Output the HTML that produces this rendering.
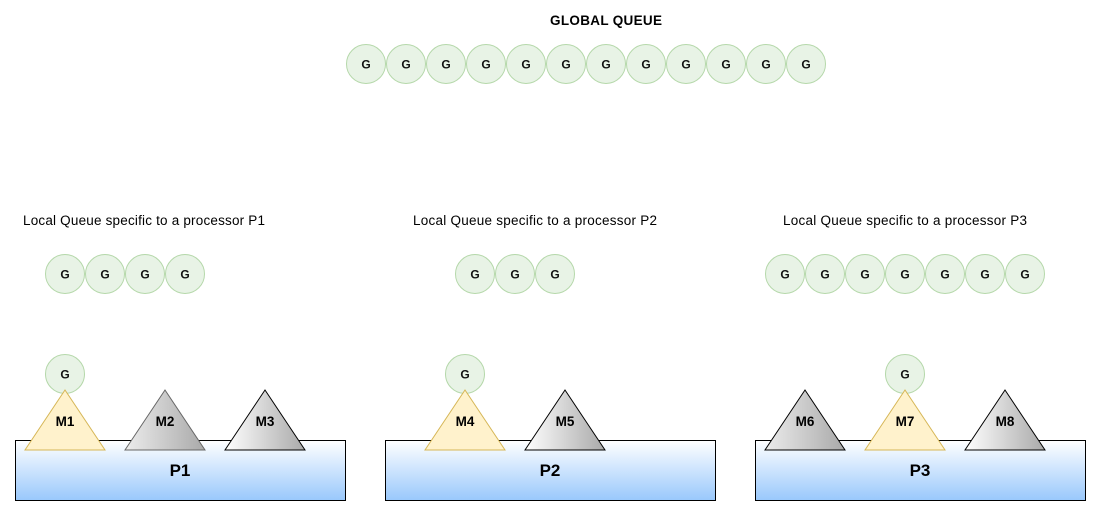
<!DOCTYPE html>
<html><head><meta charset="utf-8"><style>
html,body{margin:0;padding:0;background:#fff;}
svg{display:block;font-family:"Liberation Sans",Arial,sans-serif;}
</style></head><body>
<svg width="1096" height="511" viewBox="0 0 1096 511" xmlns="http://www.w3.org/2000/svg">
<defs>
<linearGradient id="pb" x1="0" y1="0" x2="0" y2="1"><stop offset="0" stop-color="#ffffff"/><stop offset="1" stop-color="#99c8fc"/></linearGradient>
<linearGradient id="g2" x1="0" y1="0" x2="1" y2="0"><stop offset="0" stop-color="#ececec"/><stop offset="1" stop-color="#a9a9a9"/></linearGradient>
<linearGradient id="g3" x1="0" y1="0" x2="1" y2="0"><stop offset="0" stop-color="#ffffff"/><stop offset="1" stop-color="#a9a9a9"/></linearGradient>
<g id="c"><circle r="19.5" fill="#e8f3e6" stroke="#b5d8aa" stroke-width="1"/><text y="4.5" text-anchor="middle" font-size="12" font-weight="bold" fill="#111">G</text></g>
</defs>

<text x="606" y="25" text-anchor="middle" font-size="13.5" font-weight="bold" textLength="112">GLOBAL QUEUE</text>
<use href="#c" x="366" y="64"/><use href="#c" x="406" y="64"/><use href="#c" x="446" y="64"/><use href="#c" x="486" y="64"/><use href="#c" x="526" y="64"/><use href="#c" x="566" y="64"/><use href="#c" x="606" y="64"/><use href="#c" x="646" y="64"/><use href="#c" x="686" y="64"/><use href="#c" x="726" y="64"/><use href="#c" x="766" y="64"/><use href="#c" x="806" y="64"/>

<text x="23" y="225" font-size="13.5" textLength="242">Local Queue specific to a processor P1</text>
<text x="413" y="225" font-size="13.5" textLength="244">Local Queue specific to a processor P2</text>
<text x="783" y="225" font-size="13.5" textLength="244">Local Queue specific to a processor P3</text>

<use href="#c" x="65" y="274"/><use href="#c" x="105" y="274"/><use href="#c" x="145" y="274"/><use href="#c" x="185" y="274"/>
<use href="#c" x="475" y="274"/><use href="#c" x="515" y="274"/><use href="#c" x="555" y="274"/>
<use href="#c" x="785" y="274"/><use href="#c" x="825" y="274"/><use href="#c" x="865" y="274"/><use href="#c" x="905" y="274"/><use href="#c" x="945" y="274"/><use href="#c" x="985" y="274"/><use href="#c" x="1025" y="274"/>

<rect x="15.5" y="440.5" width="330" height="60" fill="url(#pb)" stroke="#000"/>
<rect x="385.5" y="440.5" width="330" height="60" fill="url(#pb)" stroke="#000"/>
<rect x="755.5" y="440.5" width="330" height="60" fill="url(#pb)" stroke="#000"/>
<g font-size="17" font-weight="bold" text-anchor="middle">
<text x="180" y="476">P1</text><text x="550" y="476">P2</text><text x="920" y="476">P3</text>
</g>

<use href="#c" x="65" y="374"/><use href="#c" x="465" y="374"/><use href="#c" x="905" y="374"/>

<g stroke-width="1">
<polygon points="65,390 105,450 25,450" fill="#fff2cc" stroke="#d6b656"/>
<polygon points="165,390 205,450 125,450" fill="url(#g2)" stroke="#666"/>
<polygon points="265,390 305,450 225,450" fill="url(#g3)" stroke="#000"/>
<polygon points="465,390 505,450 425,450" fill="#fff2cc" stroke="#d6b656"/>
<polygon points="565,390 605,450 525,450" fill="url(#g3)" stroke="#000"/>
<polygon points="805,390 845,450 765,450" fill="url(#g2)" stroke="#000"/>
<polygon points="905,390 945,450 865,450" fill="#fff2cc" stroke="#d6b656"/>
<polygon points="1005,390 1045,450 965,450" fill="url(#g3)" stroke="#000"/>
</g>
<g font-size="13.5" font-weight="bold" text-anchor="middle">
<text x="65" y="426">M1</text><text x="165" y="426">M2</text><text x="265" y="426">M3</text>
<text x="465" y="426">M4</text><text x="565" y="426">M5</text>
<text x="805" y="426">M6</text><text x="905" y="426">M7</text><text x="1005" y="426">M8</text>
</g>
</svg>
</body></html>
